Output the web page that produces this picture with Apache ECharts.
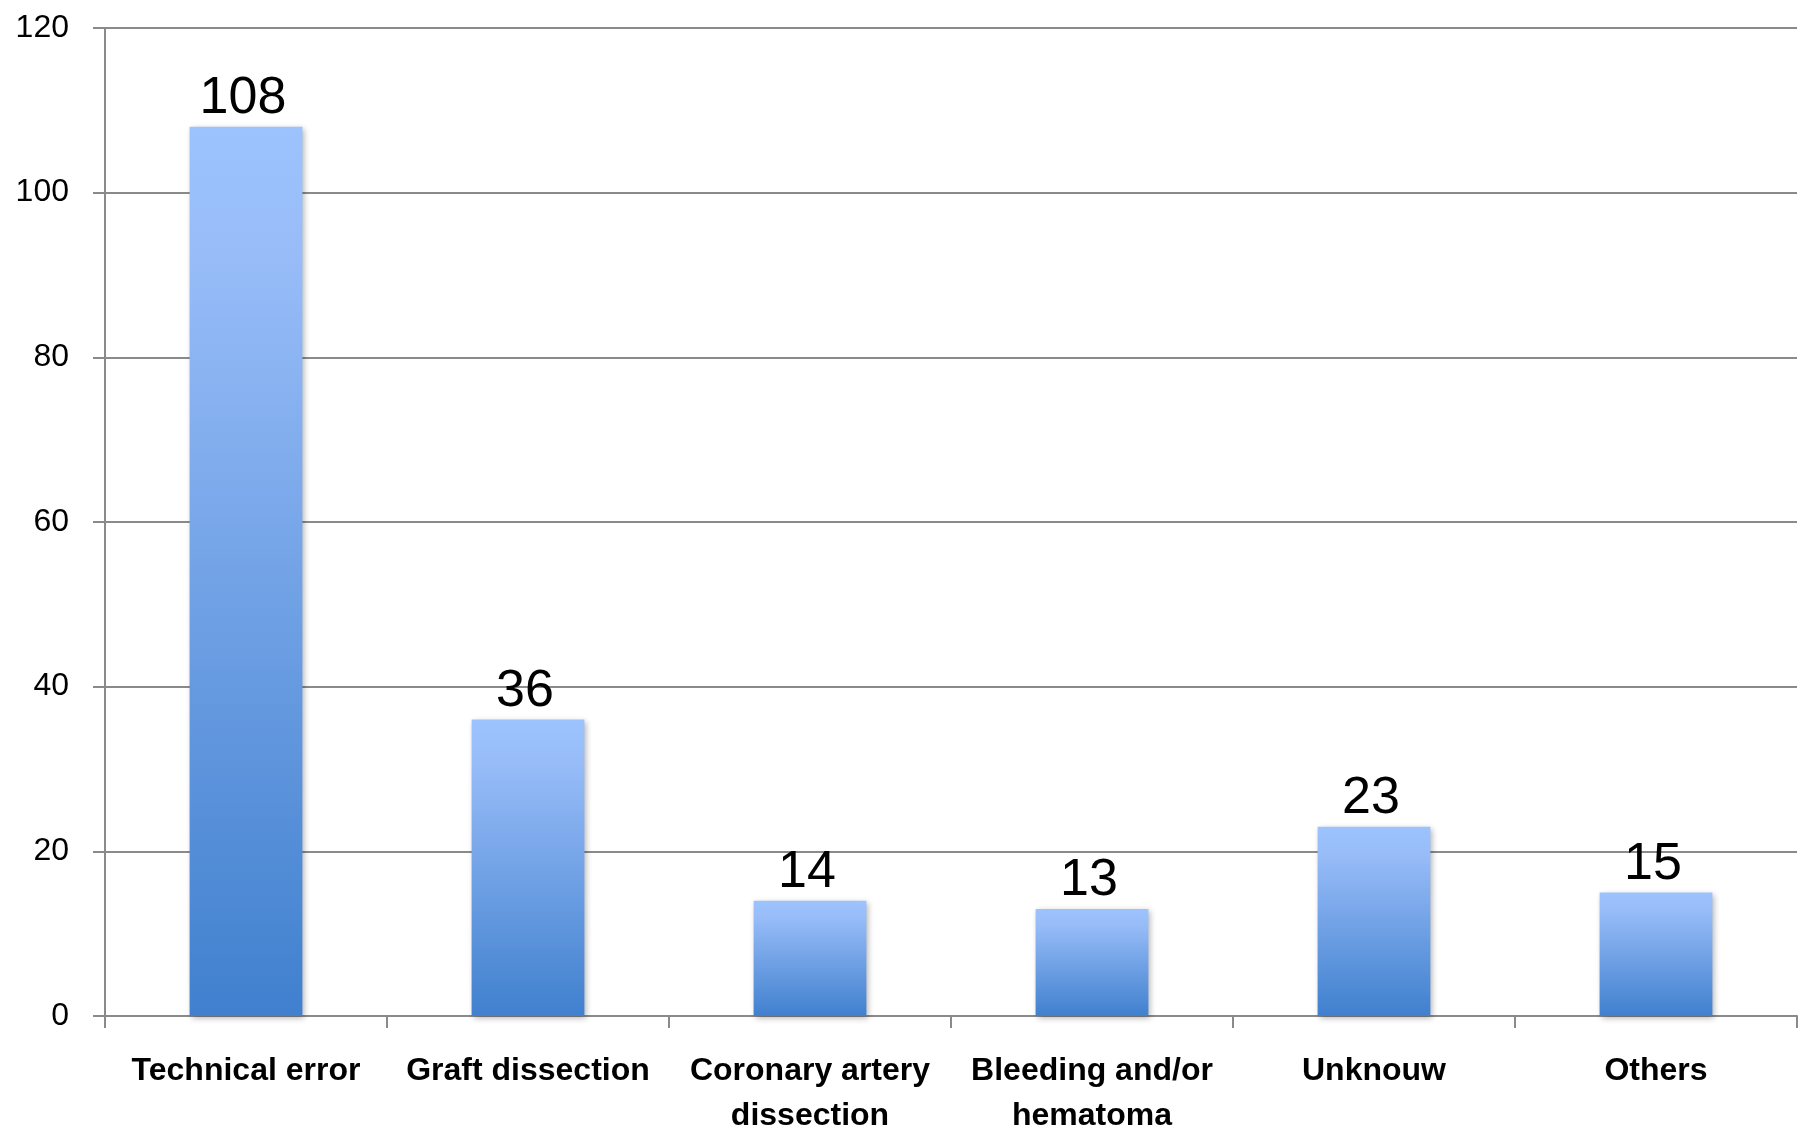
<!DOCTYPE html>
<html>
<head>
<meta charset="utf-8">
<script src="https://cdn.jsdelivr.net/npm/echarts@6/dist/echarts.min.js"></script>
<style>
html,body{margin:0;padding:0;background:#fff;}
#chart{width:1807px;height:1139px;}
</style>
</head>
<body>
<div id="chart"></div>
<script>
const categories = ["Technical error", "Graft dissection", "Coronary artery\ndissection", "Bleeding and/or\nhematoma", "Unknouw", "Others"];
const values = [108, 36, 14, 13, 23, 15];
const yTicks = [0, 20, 40, 60, 80, 100, 120];

const chart = echarts.init(document.getElementById('chart'), null, {renderer: 'canvas'});
const grey = '#8a8a8a';
chart.setOption({
  animation: false,
  backgroundColor: '#ffffff',
  grid: {left: 105, right: 10, top: 28, bottom: 115, containLabel: false},
  xAxis: {
    type: 'category',
    data: categories,
    boundaryGap: true,
    axisLine: {show: true, lineStyle: {color: grey, width: 2}},
    axisTick: {show: true, length: 12, lineStyle: {color: grey, width: 2}},
    axisLabel: {
      interval: 0,
      margin: 33,
      color: '#000',
      fontFamily: 'Liberation Sans',
      fontWeight: 'bold',
      fontSize: 32,
      lineHeight: 45
    }
  },
  yAxis: {
    type: 'value',
    min: yTicks[0],
    max: yTicks[yTicks.length - 1],
    interval: 20,
    axisLine: {show: true, lineStyle: {color: grey, width: 2}},
    axisTick: {show: true, length: 12, lineStyle: {color: grey, width: 2}},
    splitLine: {show: true, lineStyle: {color: grey, width: 2}},
    axisLabel: {
      margin: 36,
      color: '#000',
      fontFamily: 'Liberation Sans',
      fontSize: 32,
      padding: [3, 0, 0, 0]
    }
  },
  series: [{
    type: 'bar',
    data: values,
    barWidth: '40%',
    itemStyle: {
      color: new echarts.graphic.LinearGradient(0, 0, 0, 1, [
        {offset: 0, color: '#9dc3ff'},
        {offset: 0.15, color: '#97bcf8'},
        {offset: 1, color: '#4080ce'}
      ]),
      shadowColor: 'rgba(0,0,0,0.3)',
      shadowBlur: 6,
      shadowOffsetX: 2,
      shadowOffsetY: 2
    },
    label: {
      show: true,
      position: 'top',
      distance: 2,
      offset: [-3, 0],
      color: '#000',
      fontFamily: 'Liberation Sans',
      fontSize: 52
    }
  }]
});
</script>
</body>
</html>
